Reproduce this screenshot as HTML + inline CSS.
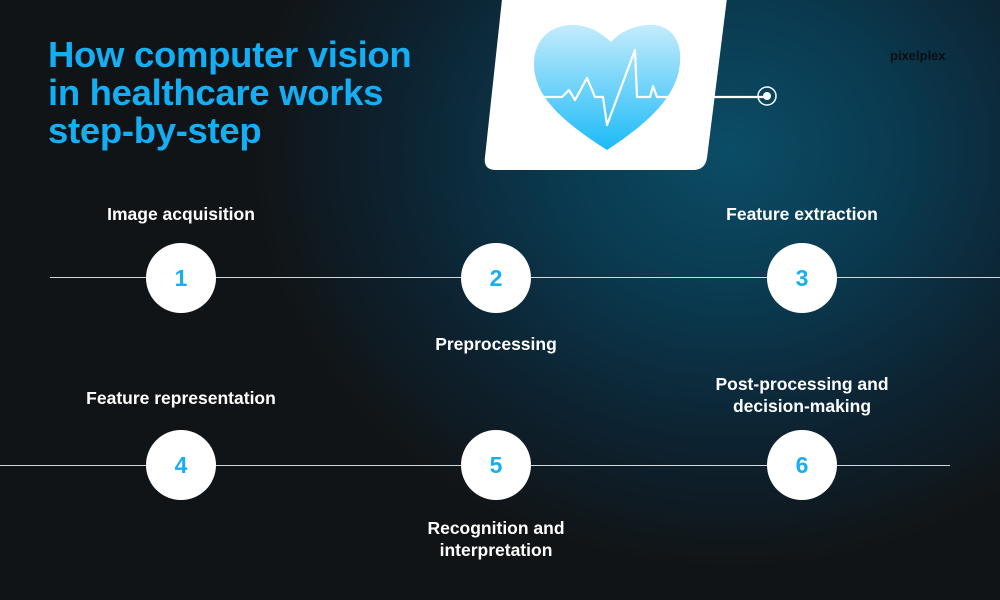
<!DOCTYPE html>
<html><head><style>
body{margin:0;width:1000px;height:600px;overflow:hidden;font-family:"Liberation Sans",sans-serif;}
.bg{position:absolute;inset:0;background:radial-gradient(ellipse 480px 420px at 730px 150px,#0b4d66 0%,#0a3a50 35%,#0d2230 70%,#111416 100%),#111;}
h1{position:absolute;left:48px;top:36px;margin:0;color:#14aef5;font-size:36.5px;line-height:38px;font-weight:bold;letter-spacing:-0.3px}
.l{position:absolute;color:#fff;font-weight:bold;font-size:17.5px;text-align:center;line-height:22px;white-space:nowrap}
.c{position:absolute;width:70px;height:70px;border-radius:50%;background:#fff;color:#17aff2;font-weight:bold;font-size:23px;display:flex;align-items:center;justify-content:center}
.line{position:absolute;height:1px;background:#cfd8dc}
</style></head><body>
<div class="bg"></div>
<svg style="position:absolute;left:0;top:0" width="1000" height="600">
<defs><linearGradient id="g" x1="0" y1="0" x2="0" y2="1"><stop offset="0" stop-color="#c4ecfc"/><stop offset="1" stop-color="#1cbaf8"/></linearGradient></defs>
<path d="M503,-10 L728,-10 L707,158 Q705,170 693,170 L496,170 Q483,170 485,157 Z" fill="#fff"/>
<path d="M607,150 C560,120 533,95 534,62 C535,38 552,25 572,25 C590,25 601,33 611,42 C622,30 638,24 655,25 C672,27 682,42 680,62 C678,95 650,122 607,150 Z" fill="url(#g)"/>
<polyline points="537,97 562,97 569,90 575,100 587,78 595,97 603,97 607,125 635,50 637,97 650,97 653,86 657,97 765,97" fill="none" stroke="#fff" stroke-width="2.2" stroke-linejoin="round"/>
<circle cx="767" cy="96" r="9" fill="none" stroke="#fff" stroke-width="1.5"/>
<circle cx="767" cy="96" r="4" fill="#fff"/>
</svg>
<h1>How computer vision<br>in healthcare works<br>step-by-step</h1>
<div style="position:absolute;left:890px;top:48px;color:#0b0f12;font-size:13px;font-weight:bold">pixelplex</div>
<div class="line" style="left:50px;width:950px;top:277px"></div>
<div class="line" style="left:0;width:950px;top:465px"></div>
<div class="c" style="left:146px;top:243px">1</div>
<div class="c" style="left:461px;top:243px">2</div>
<div class="c" style="left:767px;top:243px">3</div>
<div class="c" style="left:146px;top:430px">4</div>
<div class="c" style="left:461px;top:430px">5</div>
<div class="c" style="left:767px;top:430px">6</div>
<div class="l" style="left:81px;width:200px;top:203px">Image acquisition</div>
<div class="l" style="left:396px;width:200px;top:333px">Preprocessing</div>
<div class="l" style="left:702px;width:200px;top:203px">Feature extraction</div>
<div class="l" style="left:61px;width:240px;top:387px">Feature representation</div>
<div class="l" style="left:376px;width:240px;top:517px">Recognition and<br>interpretation</div>
<div class="l" style="left:682px;width:240px;top:373px">Post-processing and<br>decision-making</div>
</body></html>
